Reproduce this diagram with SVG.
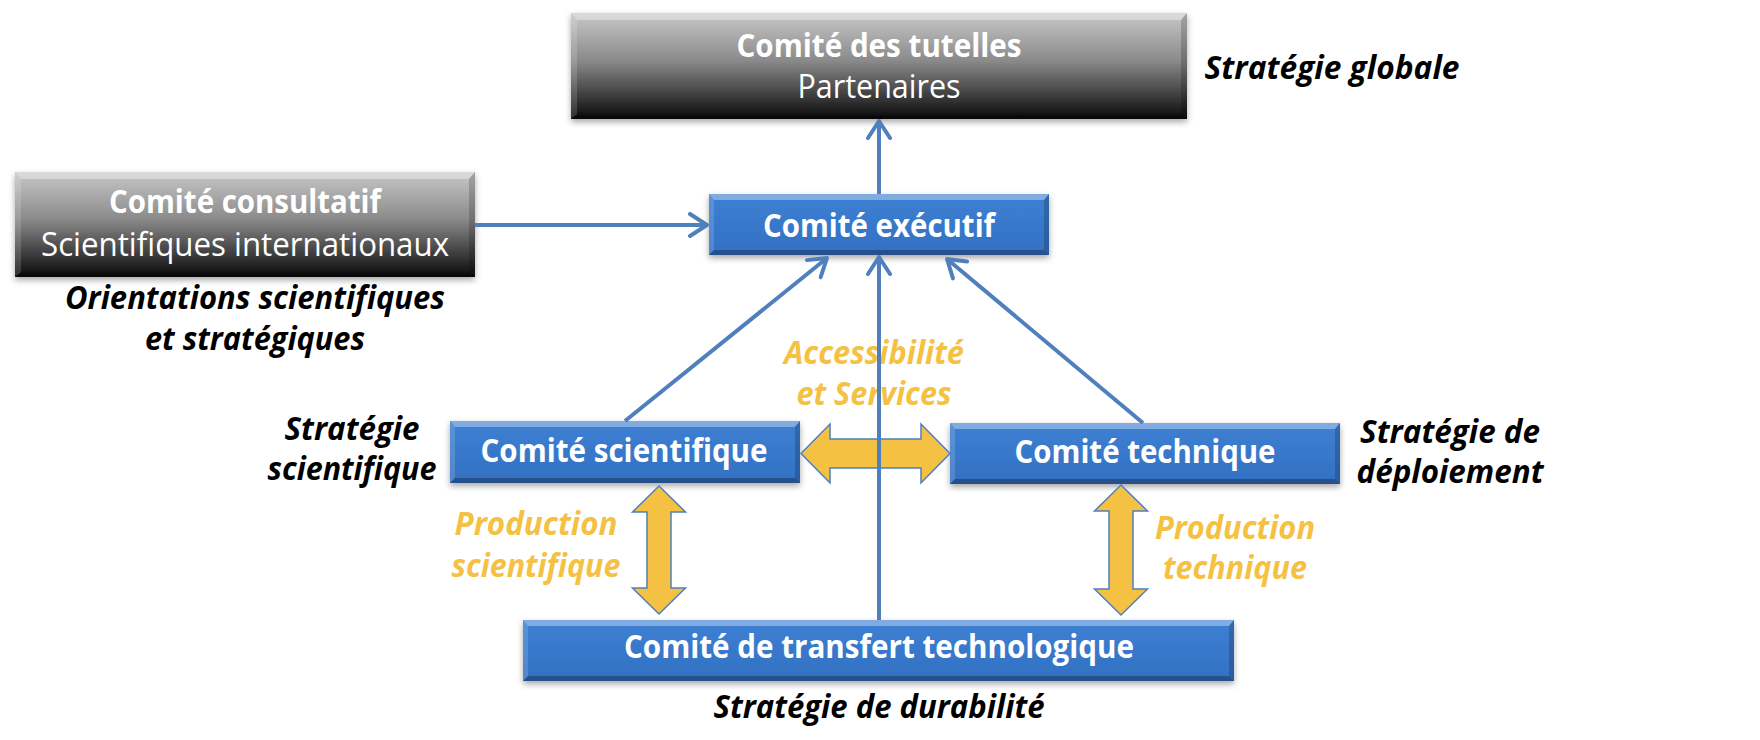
<svg xmlns="http://www.w3.org/2000/svg" width="1760" height="740" viewBox="0 0 1760 740">
<defs>
<linearGradient id="gGray" x1="0" y1="0" x2="0" y2="1">
<stop offset="0" stop-color="#c8c8c8"/>
<stop offset="0.45" stop-color="#8a8a8a"/>
<stop offset="1" stop-color="#0a0a0a"/>
</linearGradient>
<linearGradient id="gBlue" x1="0" y1="0" x2="0" y2="1">
<stop offset="0" stop-color="#3d80d3"/>
<stop offset="1" stop-color="#3370c2"/>
</linearGradient>
<filter id="sh" x="-5%" y="-20%" width="110%" height="150%">
<feDropShadow dx="0" dy="3" stdDeviation="3" flood-color="#000" flood-opacity="0.35"/>
</filter>
<marker id="ah" markerUnits="userSpaceOnUse" viewBox="0 0 26 26" markerWidth="26" markerHeight="26" refX="22" refY="13" orient="auto">
<path d="M5,2 L22,13 L5,24" fill="none" stroke="#4f7fbd" stroke-width="4" stroke-linecap="round" stroke-linejoin="round"/>
</marker>
</defs>
<style>
.gray{fill:url(#gGray)}
.blue{fill:url(#gBlue)}
.bt{fill:#fff;fill-opacity:.35}
.bb{fill:#000;fill-opacity:.28}
.bl{fill:#fff;fill-opacity:.15}
.br{fill:#000;fill-opacity:.18}
text{font-family:'Open Sans','Noto Sans',sans-serif;font-size:32px;}
.wb{fill:#fff;font-weight:bold;text-anchor:middle}
.wr{fill:#fff;font-weight:normal;text-anchor:middle}
.bi{fill:#000;font-weight:bold;font-style:italic;text-anchor:middle}
.yi{fill:#f5c143;font-weight:bold;font-style:italic;text-anchor:middle}
.conn{fill:none;stroke:#4f7fbd;stroke-width:4}
.ya{fill:#f5c143;stroke:#4f7fbd;stroke-width:1.5;stroke-linejoin:miter}
</style>

<g id="comite-tutelles">
<g filter="url(#sh)"><rect class="gray" x="571" y="13" width="616" height="106"/></g>
<polygon class="bt" points="571,13 1187,13 1181,20 577,20"/>
<polygon class="bb" points="571,119 1187,119 1181,114 577,114"/>
<polygon class="bl" points="571,13 577,20 577,114 571,119"/>
<polygon class="br" points="1187,13 1181,20 1181,114 1187,119"/>
<text class="wb" x="879" y="57" textLength="285" lengthAdjust="spacingAndGlyphs">Comité des tutelles</text>
<text class="wr" x="879" y="98" textLength="163" lengthAdjust="spacingAndGlyphs">Partenaires</text>
</g>
<g id="label-strategie-globale">
<text class="bi" x="1332" y="79" textLength="255" lengthAdjust="spacingAndGlyphs">Stratégie globale</text>
</g>

<g id="comite-consultatif">
<g filter="url(#sh)"><rect class="gray" x="15" y="172" width="460" height="105"/></g>
<polygon class="bt" points="15,172 475,172 469,179 21,179"/>
<polygon class="bb" points="15,277 475,277 469,272 21,272"/>
<polygon class="bl" points="15,172 21,179 21,272 15,277"/>
<polygon class="br" points="475,172 469,179 469,272 475,277"/>
<text class="wb" x="245" y="213" textLength="272" lengthAdjust="spacingAndGlyphs">Comité consultatif</text>
<text class="wr" x="245" y="256" textLength="408" lengthAdjust="spacingAndGlyphs">Scientifiques internationaux</text>
</g>
<g id="label-orientations">
<text class="bi" x="255" y="309" textLength="380" lengthAdjust="spacingAndGlyphs">Orientations scientifiques</text>
<text class="bi" x="255" y="350" textLength="220" lengthAdjust="spacingAndGlyphs">et stratégiques</text>
</g>

<g id="comite-executif">
<g filter="url(#sh)"><rect class="blue" x="709" y="194" width="340" height="61"/></g>
<polygon class="bt" points="709,194 1049,194 1044,200 714,200"/>
<polygon class="bb" points="709,255 1049,255 1044,250 714,250"/>
<polygon class="bl" points="709,194 714,200 714,250 709,255"/>
<polygon class="br" points="1049,194 1044,200 1044,250 1049,255"/>
<text class="wb" x="879" y="237" textLength="232" lengthAdjust="spacingAndGlyphs">Comité exécutif</text>
</g>

<g id="comite-scientifique">
<g filter="url(#sh)"><rect class="blue" x="450" y="421" width="350" height="62"/></g>
<polygon class="bt" points="450,421 800,421 795,427 455,427"/>
<polygon class="bb" points="450,483 800,483 795,478 455,478"/>
<polygon class="bl" points="450,421 455,427 455,478 450,483"/>
<polygon class="br" points="800,421 795,427 795,478 800,483"/>
<text class="wb" x="624" y="462" textLength="287" lengthAdjust="spacingAndGlyphs">Comité scientifique</text>
</g>
<g id="label-strategie-scientifique">
<text class="bi" x="352" y="440" textLength="135" lengthAdjust="spacingAndGlyphs">Stratégie</text>
<text class="bi" x="352" y="480" textLength="169" lengthAdjust="spacingAndGlyphs">scientifique</text>
</g>

<g id="comite-technique">
<g filter="url(#sh)"><rect class="blue" x="950" y="423" width="390" height="61"/></g>
<polygon class="bt" points="950,423 1340,423 1335,429 955,429"/>
<polygon class="bb" points="950,484 1340,484 1335,479 955,479"/>
<polygon class="bl" points="950,423 955,429 955,479 950,484"/>
<polygon class="br" points="1340,423 1335,429 1335,479 1340,484"/>
<text class="wb" x="1145" y="463" textLength="261" lengthAdjust="spacingAndGlyphs">Comité technique</text>
</g>
<g id="label-strategie-deploiement">
<text class="bi" x="1450" y="443" textLength="180" lengthAdjust="spacingAndGlyphs">Stratégie de</text>
<text class="bi" x="1450" y="483" textLength="187" lengthAdjust="spacingAndGlyphs">déploiement</text>
</g>

<g id="comite-transfert">
<g filter="url(#sh)"><rect class="blue" x="523" y="620" width="711" height="61"/></g>
<polygon class="bt" points="523,620 1234,620 1229,626 528,626"/>
<polygon class="bb" points="523,681 1234,681 1229,676 528,676"/>
<polygon class="bl" points="523,620 528,626 528,676 523,681"/>
<polygon class="br" points="1234,620 1229,626 1229,676 1234,681"/>
<text class="wb" x="879" y="658" textLength="510" lengthAdjust="spacingAndGlyphs">Comité de transfert technologique</text>
</g>
<g id="label-strategie-durabilite">
<text class="bi" x="879" y="718" textLength="331" lengthAdjust="spacingAndGlyphs">Stratégie de durabilité</text>
</g>

<g id="flux-accessibilite">
<polygon class="ya" points="801,453.5 830,424 830,439 921,439 921,424 950,453.5 921,483 921,468 830,468 830,483"/>
<text class="yi" x="874" y="364" textLength="180" lengthAdjust="spacingAndGlyphs">Accessibilité</text>
<text class="yi" x="874" y="405" textLength="155" lengthAdjust="spacingAndGlyphs">et Services</text>
</g>
<g id="flux-production-scientifique">
<polygon class="ya" points="659,486 685.5,512 671,512 671,588 685.5,588 659,614 632.5,588 647,588 647,512 632.5,512"/>
<text class="yi" x="536" y="535" textLength="163" lengthAdjust="spacingAndGlyphs">Production</text>
<text class="yi" x="536" y="577" textLength="169" lengthAdjust="spacingAndGlyphs">scientifique</text>
</g>
<g id="flux-production-technique">
<polygon class="ya" points="1121,485 1147.5,511 1133,511 1133,589 1147.5,589 1121,615 1094.5,589 1109,589 1109,511 1094.5,511"/>
<text class="yi" x="1235" y="539" textLength="160" lengthAdjust="spacingAndGlyphs">Production</text>
<text class="yi" x="1235" y="579" textLength="144" lengthAdjust="spacingAndGlyphs">technique</text>
</g>

<g id="connectors">
<path class="conn" d="M475,225 L707,225" marker-end="url(#ah)"/>
<path class="conn" d="M879,194 L879,121" marker-end="url(#ah)"/>
<path class="conn" d="M879,620 L879,257" marker-end="url(#ah)"/>
<path class="conn" d="M625,421 L827,258" marker-end="url(#ah)"/>
<path class="conn" d="M1143,423 L947,259" marker-end="url(#ah)"/>
</g>
</svg>
